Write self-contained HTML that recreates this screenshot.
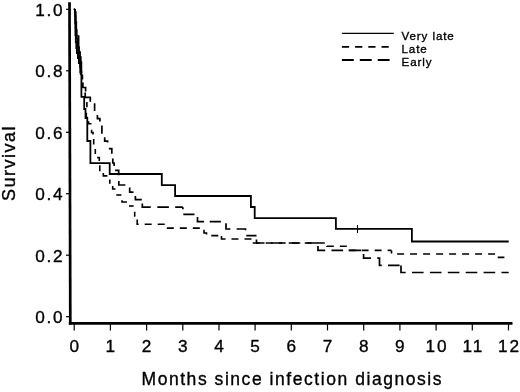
<!DOCTYPE html>
<html><head><meta charset="utf-8"><style>
html,body{margin:0;padding:0;background:#fff;}
svg{display:block;filter:grayscale(100%);}
text{font-family:"Liberation Sans",sans-serif;fill:#000;stroke:#000;stroke-width:0.35px;}
</style></head><body>
<svg width="520" height="392" viewBox="0 0 520 392">
<line x1="69.5" y1="2.3" x2="70.3" y2="324.5" stroke="#000" stroke-width="2.7"/>
<line x1="68.8" y1="323.3" x2="512.5" y2="323.3" stroke="#000" stroke-width="2.8"/>
<line x1="66" y1="316.7" x2="69.5" y2="316.7" stroke="#000" stroke-width="1.2"/>
<line x1="66" y1="255.2" x2="69.5" y2="255.2" stroke="#000" stroke-width="1.2"/>
<line x1="66" y1="193.7" x2="69.5" y2="193.7" stroke="#000" stroke-width="1.2"/>
<line x1="66" y1="132.3" x2="69.5" y2="132.3" stroke="#000" stroke-width="1.2"/>
<line x1="66" y1="70.8" x2="69.5" y2="70.8" stroke="#000" stroke-width="1.2"/>
<line x1="66" y1="9.3" x2="69.5" y2="9.3" stroke="#000" stroke-width="1.2"/>
<line x1="74.2" y1="324" x2="74.2" y2="330.4" stroke="#000" stroke-width="1.2"/>
<line x1="110.4" y1="324" x2="110.4" y2="330.4" stroke="#000" stroke-width="1.2"/>
<line x1="146.6" y1="324" x2="146.6" y2="330.4" stroke="#000" stroke-width="1.2"/>
<line x1="182.8" y1="324" x2="182.8" y2="330.4" stroke="#000" stroke-width="1.2"/>
<line x1="219.0" y1="324" x2="219.0" y2="330.4" stroke="#000" stroke-width="1.2"/>
<line x1="255.1" y1="324" x2="255.1" y2="330.4" stroke="#000" stroke-width="1.2"/>
<line x1="291.3" y1="324" x2="291.3" y2="330.4" stroke="#000" stroke-width="1.2"/>
<line x1="327.5" y1="324" x2="327.5" y2="330.4" stroke="#000" stroke-width="1.2"/>
<line x1="363.7" y1="324" x2="363.7" y2="330.4" stroke="#000" stroke-width="1.2"/>
<line x1="399.9" y1="324" x2="399.9" y2="330.4" stroke="#000" stroke-width="1.2"/>
<line x1="436.1" y1="324" x2="436.1" y2="330.4" stroke="#000" stroke-width="1.2"/>
<line x1="472.3" y1="324" x2="472.3" y2="330.4" stroke="#000" stroke-width="1.2"/>
<line x1="508.5" y1="324" x2="508.5" y2="330.4" stroke="#000" stroke-width="1.2"/>
<path d="M73.7 8.8 L75.1 9.7 V23 H75.4 V35 H75.8 V42 H76.3 V48 H76.9 V53 H77.9 V58 H78.9 V63 H80.3 V72 H81.4 V96.9 H84.2 V109 H85.5 V118 H87.3 V141 H90.4 V163.2 H109.7 V174 H161.8 V185.2 H175.1 V196 H250.9 V207 H254.7 V218.1 H335.9 V228.8 H411.9 V241.5 H508.7" fill="none" stroke="#000" stroke-width="1.8"/>
<path d="M75.1 9.6 V16 H75.6 V28 H76.2 V38 H77.4 V46 H78 V53 H79 V60 H80 V67 H80.6 V75" fill="none" stroke="#000" stroke-width="1.6"/>
<path d="M138.6 224.2 H164.8 V228.1 H200.5 V230.5 H204 V233 H206.5 V235.6 H221.5" fill="none" stroke="#000" stroke-width="1.6" stroke-dasharray="7 6" stroke-dashoffset="6.9"/>
<path d="M221.5 235.6 V239 H252.5" fill="none" stroke="#000" stroke-width="1.6" stroke-dasharray="7 6" stroke-dashoffset="12.6"/>
<path d="M252.5 239 V243 H327" fill="none" stroke="#000" stroke-width="1.6" stroke-dasharray="7 6" stroke-dashoffset="8.8"/>
<path d="M327 243 V246.2 H348 V250.4 H391.5" fill="none" stroke="#000" stroke-width="1.6" stroke-dasharray="7 6" stroke-dashoffset="10.0"/>
<path d="M391.5 250.4 V254 H496.6 V257.4 H504.4" fill="none" stroke="#000" stroke-width="1.6" stroke-dasharray="7 6" stroke-dashoffset="3.8"/>
<path d="M86.9 102 V107.3" fill="none" stroke="#000" stroke-width="1.6"/>
<path d="M86.3 112.7 V117.5 H87.8" fill="none" stroke="#000" stroke-width="1.6"/>
<path d="M88.6 121.3 V123.8 H91.5" fill="none" stroke="#000" stroke-width="1.6"/>
<path d="M91.6 129.8 V132.5 H93 V134.5" fill="none" stroke="#000" stroke-width="1.6"/>
<path d="M93.7 139 V144.5" fill="none" stroke="#000" stroke-width="1.6"/>
<path d="M95.3 149 V154" fill="none" stroke="#000" stroke-width="1.6"/>
<path d="M97.2 157.6 H99.3 V160.9" fill="none" stroke="#000" stroke-width="1.6"/>
<path d="M99.8 165.3 V171.2" fill="none" stroke="#000" stroke-width="1.6"/>
<path d="M103.3 173.1 V175.9 H107.4" fill="none" stroke="#000" stroke-width="1.6"/>
<path d="M109.8 179.6 V183.7" fill="none" stroke="#000" stroke-width="1.6"/>
<path d="M112.7 186 V189 H115.5" fill="none" stroke="#000" stroke-width="1.6"/>
<path d="M116.3 195 H121.4" fill="none" stroke="#000" stroke-width="1.6"/>
<path d="M122 200.2 V202 H127" fill="none" stroke="#000" stroke-width="1.6"/>
<path d="M129 206 H133.6" fill="none" stroke="#000" stroke-width="1.6"/>
<path d="M134.7 211.8 V216 H135.4" fill="none" stroke="#000" stroke-width="1.6"/>
<path d="M137.2 219.6 V224.2 H138.6" fill="none" stroke="#000" stroke-width="1.6"/>
<path d="M82.4 74.5 V79.5" fill="none" stroke="#000" stroke-width="1.7"/>
<path d="M82.9 82.4 V87.5 H85.6 V91.6" fill="none" stroke="#000" stroke-width="1.7"/>
<path d="M85.2 92.6 V97.3 H90.3 V101.8" fill="none" stroke="#000" stroke-width="1.7"/>
<path d="M93.8 104.2 H94.6 V111.1" fill="none" stroke="#000" stroke-width="1.7"/>
<path d="M97.4 115 V118.6 H99.9 V121.5" fill="none" stroke="#000" stroke-width="1.7"/>
<path d="M101.9 125.6 V133.8" fill="none" stroke="#000" stroke-width="1.7"/>
<path d="M104.7 137.2 V141.2 H107.6 V142.5" fill="none" stroke="#000" stroke-width="1.7"/>
<path d="M108.8 148.7 H111.8 V153.8" fill="none" stroke="#000" stroke-width="1.7"/>
<path d="M112.8 158.4 V163 H114.1 V166" fill="none" stroke="#000" stroke-width="1.7"/>
<path d="M115.1 170.3 H118.7 V175.2" fill="none" stroke="#000" stroke-width="1.7"/>
<path d="M118.8 181 V185 H125.4" fill="none" stroke="#000" stroke-width="1.7"/>
<path d="M129.7 187.6 V192.1 H133.5" fill="none" stroke="#000" stroke-width="1.7"/>
<path d="M135.4 196 V199.7 H141.8" fill="none" stroke="#000" stroke-width="1.7"/>
<path d="M142.3 203.5 V207.2 H150.4" fill="none" stroke="#000" stroke-width="1.7"/>
<path d="M75.1 9.6 V12 H75.8 V22 H76.3 V30 H76.8 V36 H78.6 V47 H79.1 V52 H80.1 V57 H80.8 V62 H81.4 V73" fill="none" stroke="#000" stroke-width="1.7"/>
<path d="M150.4 207.2 H182.9" fill="none" stroke="#000" stroke-width="1.7" stroke-dasharray="11.6 6.3" stroke-dashoffset="11.0"/>
<path d="M182.9 207.2 V214.4 H197.5 V221.6 H226" fill="none" stroke="#000" stroke-width="1.7" stroke-dasharray="11.2 5.6" stroke-dashoffset="9.2"/>
<path d="M226 221.6 V229 H245.5 V235.7 H256.5" fill="none" stroke="#000" stroke-width="1.7" stroke-dasharray="10.2 6.2" stroke-dashoffset="14.8"/>
<path d="M256.5 235.7 V243 H318" fill="none" stroke="#000" stroke-width="1.7" stroke-dasharray="11.6 6.3" stroke-dashoffset="14.2"/>
<path d="M318 243 V250.3 H363.6 V258.2 H379.5 V265.4 H401" fill="none" stroke="#000" stroke-width="1.7" stroke-dasharray="11.6 6.3" stroke-dashoffset="15.0"/>
<path d="M401 265.4 V272.5 H508.7" fill="none" stroke="#000" stroke-width="1.7" stroke-dasharray="11.6 6.3" stroke-dashoffset="17.7"/>
<line x1="357.5" y1="225" x2="357.5" y2="233.1" stroke="#000" stroke-width="1.1"/>
<line x1="341.9" y1="33.4" x2="393.8" y2="33.4" stroke="#000" stroke-width="1.2"/>
<line x1="341.9" y1="46.9" x2="389" y2="46.9" stroke="#000" stroke-width="1.6" stroke-dasharray="7.2 6"/>
<line x1="341.9" y1="60" x2="389.8" y2="60" stroke="#000" stroke-width="1.8" stroke-dasharray="11.9 6"/>
<text x="64.3" y="323.1" text-anchor="end" font-size="17.2" letter-spacing="1.7">0.0</text>
<text x="64.3" y="261.6" text-anchor="end" font-size="17.2" letter-spacing="1.7">0.2</text>
<text x="64.3" y="200.1" text-anchor="end" font-size="17.2" letter-spacing="1.7">0.4</text>
<text x="64.3" y="138.7" text-anchor="end" font-size="17.2" letter-spacing="1.7">0.6</text>
<text x="64.3" y="77.2" text-anchor="end" font-size="17.2" letter-spacing="1.7">0.8</text>
<text x="64.3" y="15.7" text-anchor="end" font-size="17.2" letter-spacing="1.7">1.0</text>
<text x="75.2" y="352.2" text-anchor="middle" font-size="17.2" letter-spacing="2.0">0</text>
<text x="111.4" y="352.2" text-anchor="middle" font-size="17.2" letter-spacing="2.0">1</text>
<text x="147.6" y="352.2" text-anchor="middle" font-size="17.2" letter-spacing="2.0">2</text>
<text x="183.8" y="352.2" text-anchor="middle" font-size="17.2" letter-spacing="2.0">3</text>
<text x="220.0" y="352.2" text-anchor="middle" font-size="17.2" letter-spacing="2.0">4</text>
<text x="256.1" y="352.2" text-anchor="middle" font-size="17.2" letter-spacing="2.0">5</text>
<text x="292.3" y="352.2" text-anchor="middle" font-size="17.2" letter-spacing="2.0">6</text>
<text x="328.5" y="352.2" text-anchor="middle" font-size="17.2" letter-spacing="2.0">7</text>
<text x="364.7" y="352.2" text-anchor="middle" font-size="17.2" letter-spacing="2.0">8</text>
<text x="400.9" y="352.2" text-anchor="middle" font-size="17.2" letter-spacing="2.0">9</text>
<text x="437.1" y="352.2" text-anchor="middle" font-size="17.2" letter-spacing="2.0">10</text>
<text x="473.3" y="352.2" text-anchor="middle" font-size="17.2" letter-spacing="2.0">11</text>
<text x="509.5" y="352.2" text-anchor="middle" font-size="17.2" letter-spacing="2.0">12</text>
<text x="141.5" y="384.8" font-size="17.5" letter-spacing="1.55">Months since infection diagnosis</text>
<text transform="translate(15 201) rotate(-90)" font-size="18" letter-spacing="1.5">Survival</text>
<text x="401.5" y="40" font-size="11.6" letter-spacing="0.9">Very late</text>
<text x="401.5" y="53.3" font-size="11.6" letter-spacing="0.9">Late</text>
<text x="401.5" y="66.3" font-size="11.6" letter-spacing="0.9">Early</text>
</svg>
</body></html>
